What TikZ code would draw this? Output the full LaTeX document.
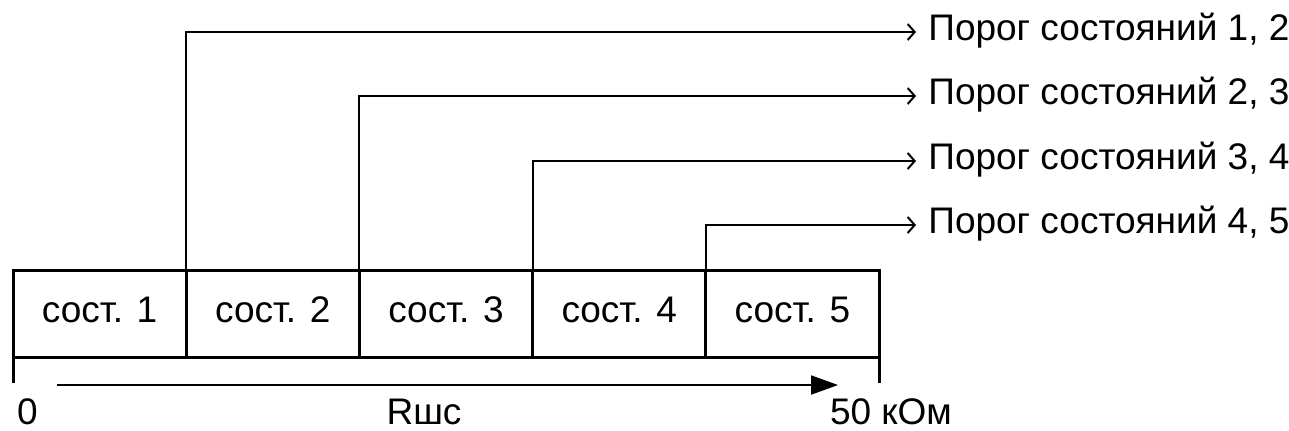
\documentclass[tikz,border=0pt]{standalone}
\usepackage{fontspec}
\setmainfont{Liberation Sans}
\usetikzlibrary{positioning}
\usetikzlibrary{arrows.meta}
\newcommand{\widthstate}{86.6pt}
\newcommand{\heightstate}{43.5pt}
\tikzset{
    common/.style={font=\fontsize{18.5}{22}\selectfont, text height=13pt, text depth=4.5pt},
    state/.style={common, draw, rectangle, line width=1.5pt, outer sep=0pt, minimum width=\widthstate, minimum height=\heightstate},
    thrlabel/.style={common, anchor=west, inner xsep=6pt},
    axlabel/.style={common, anchor=base, inner sep=0pt, text depth=0pt},
    thr/.style={line width=1pt, -{Straight Barb[length=3.5pt, width=8pt]}},
    tick/.style={line width=1.5pt},
    axis/.style={line width=1pt, -{Triangle[length=13.5pt, width=9.5pt]}}
}
\begin{document}
\begin{tikzpicture}[x=0.5pt, y=-0.5pt]
          \useasboundingbox (0,0) rectangle (1289,430);

          % states
          \node[state, anchor=west] (s1) at (13,313.5) {сост. 1};
          \node[state, right=0pt of s1] (s2) {сост. 2};
          \node[state, right=0pt of s2] (s3) {сост. 3};
          \node[state, right=0pt of s3] (s4) {сост. 4};
          \node[state, right=0pt of s4] (s5) {сост. 5};

          % thresholds
          \node[thrlabel] (t1) at (916,32) {Порог состояний 1, 2};
          \node[thrlabel] (t2) at (916,96) {Порог состояний 2, 3};
          \node[thrlabel] (t3) at (916,161) {Порог состояний 3, 4};
          \node[thrlabel] (t4) at (916,225) {Порог состояний 4, 5};
          \draw[thr] (s1.north east) |- (t1.west);
          \draw[thr] (s2.north east) |- (t2.west);
          \draw[thr] (s3.north east) |- (t3.west);
          \draw[thr] (s4.north east) |- (t4.west);

          % axis
          \draw[tick] (s1.south west) -- ++(0,26);
          \draw[tick] (s5.south east) -- ++(0,26);
          \coordinate (ax0) at (57,385);
          \coordinate (ax1) at (838,385);
          \draw[axis] (ax0) -- (ax1);
          \node[axlabel] (zero) at (27.5,424) {0};
          \node[axlabel] (rsh) at (424,424) {Rшс};
          \node[axlabel] (kohm) at (891,424) {50 кОм};
        \end{tikzpicture}
\end{document}
